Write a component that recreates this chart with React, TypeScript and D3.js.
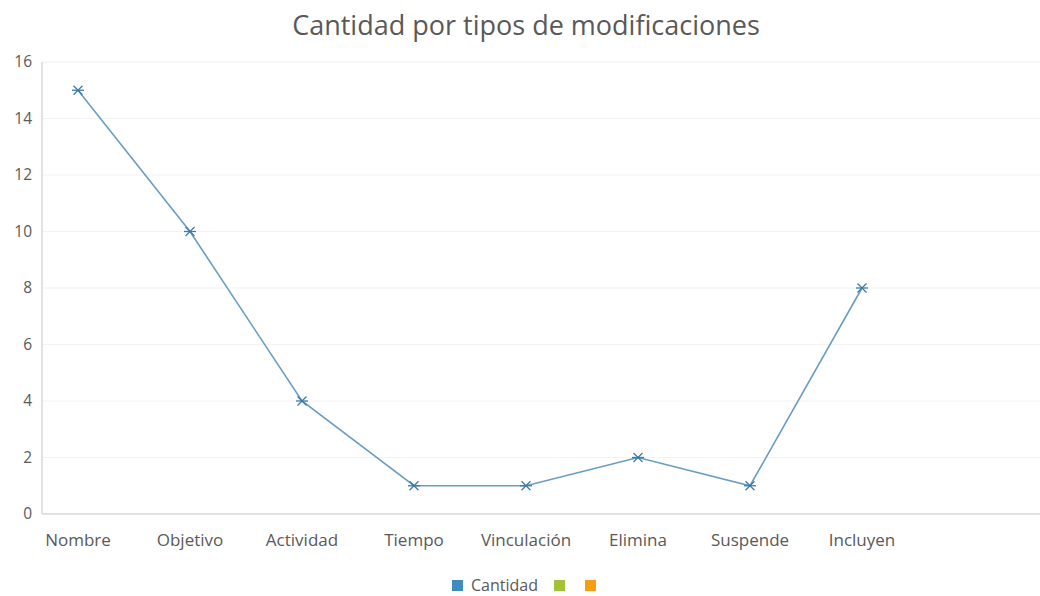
import React from 'react';
import { scaleLinear, scalePoint, line } from 'd3';

const categories = ['Nombre', 'Objetivo', 'Actividad', 'Tiempo', 'Vinculación', 'Elimina', 'Suspende', 'Incluyen'];
const cantidad = [15, 10, 4, 1, 1, 2, 1, 8];
const yTicks = [0, 2, 4, 6, 8, 10, 12, 14, 16];
const legendItems = [
  { label: 'Cantidad', color: '#3f8bbd' },
  { label: '', color: '#a4c236' },
  { label: '', color: '#f89d12' },
];

const width = 1040;
const height = 596;
const plot = { left: 42, right: 1040, top: 62, bottom: 514 };
const font = '"Open Sans", Lato, sans-serif';

const App = () => {
  const xScale = scalePoint<string>()
    .domain(categories)
    .range([78, 862]);

  const yScale = scaleLinear()
    .domain([0, 16])
    .range([plot.bottom, plot.top]);

  const pts = categories.map((c, i) => [xScale(c) as number, yScale(cantidad[i])] as [number, number]);
  const path = line()(pts) || '';

  const star = (x: number, y: number, i: number) => (
    <g key={i} transform={`translate(${x},${y})`} stroke='#3d7aa5' strokeWidth={1.3}>
      <line x1={-6} y1={0} x2={6} y2={0} />
      <line x1={-4.5} y1={-4.5} x2={4.5} y2={4.5} />
      <line x1={-4.5} y1={4.5} x2={4.5} y2={-4.5} />
    </g>
  );

  let lx = 452;
  return (
    <svg width={width} height={height} style={{ position: 'absolute', left: 0, top: 0 }}>
      <rect width={width} height={height} fill='#fff' />
      <text x={526} y={35} textAnchor='middle' fontFamily={font} fontSize={27} fill='#595959'>
        Cantidad por tipos de modificaciones
      </text>
      {yTicks.map(t => (
        <g key={t}>
          {t > 0 && (
            <line x1={plot.left} x2={plot.right} y1={yScale(t)} y2={yScale(t)} stroke='#f2f2f2' />
          )}
          <text x={32} y={yScale(t)} dy='.35em' textAnchor='end' fontFamily={font} fontSize={15.5} fill='#595959'>
            {t}
          </text>
        </g>
      ))}
      <line x1={plot.left} x2={plot.left} y1={plot.top} y2={plot.bottom} stroke='#d9d9d9' strokeWidth={1.5} />
      <line x1={plot.left} x2={plot.right} y1={plot.bottom} y2={plot.bottom} stroke='#d9d9d9' strokeWidth={1.5} />
      {categories.map(c => (
        <text key={c} x={xScale(c)} y={546} textAnchor='middle' fontFamily={font} fontSize={17} fill='#595959'>
          {c}
        </text>
      ))}
      <path d={path} fill='none' stroke='#6a9dc0' strokeWidth={1.6} />
      {pts.map((p, i) => star(p[0], p[1], i))}
      {legendItems.map((d, i) => {
        const x = lx;
        lx += 11 + (d.label ? 8 + 69 + 14 : 20);
        return (
          <g key={i}>
            <rect x={x} y={580} width={11} height={11} fill={d.color} />
            {d.label && (
              <text x={x + 19} y={591} fontFamily={font} fontSize={16} fill='#595959'>
                {d.label}
              </text>
            )}
          </g>
        );
      })}
    </svg>
  );
};

export default App;
